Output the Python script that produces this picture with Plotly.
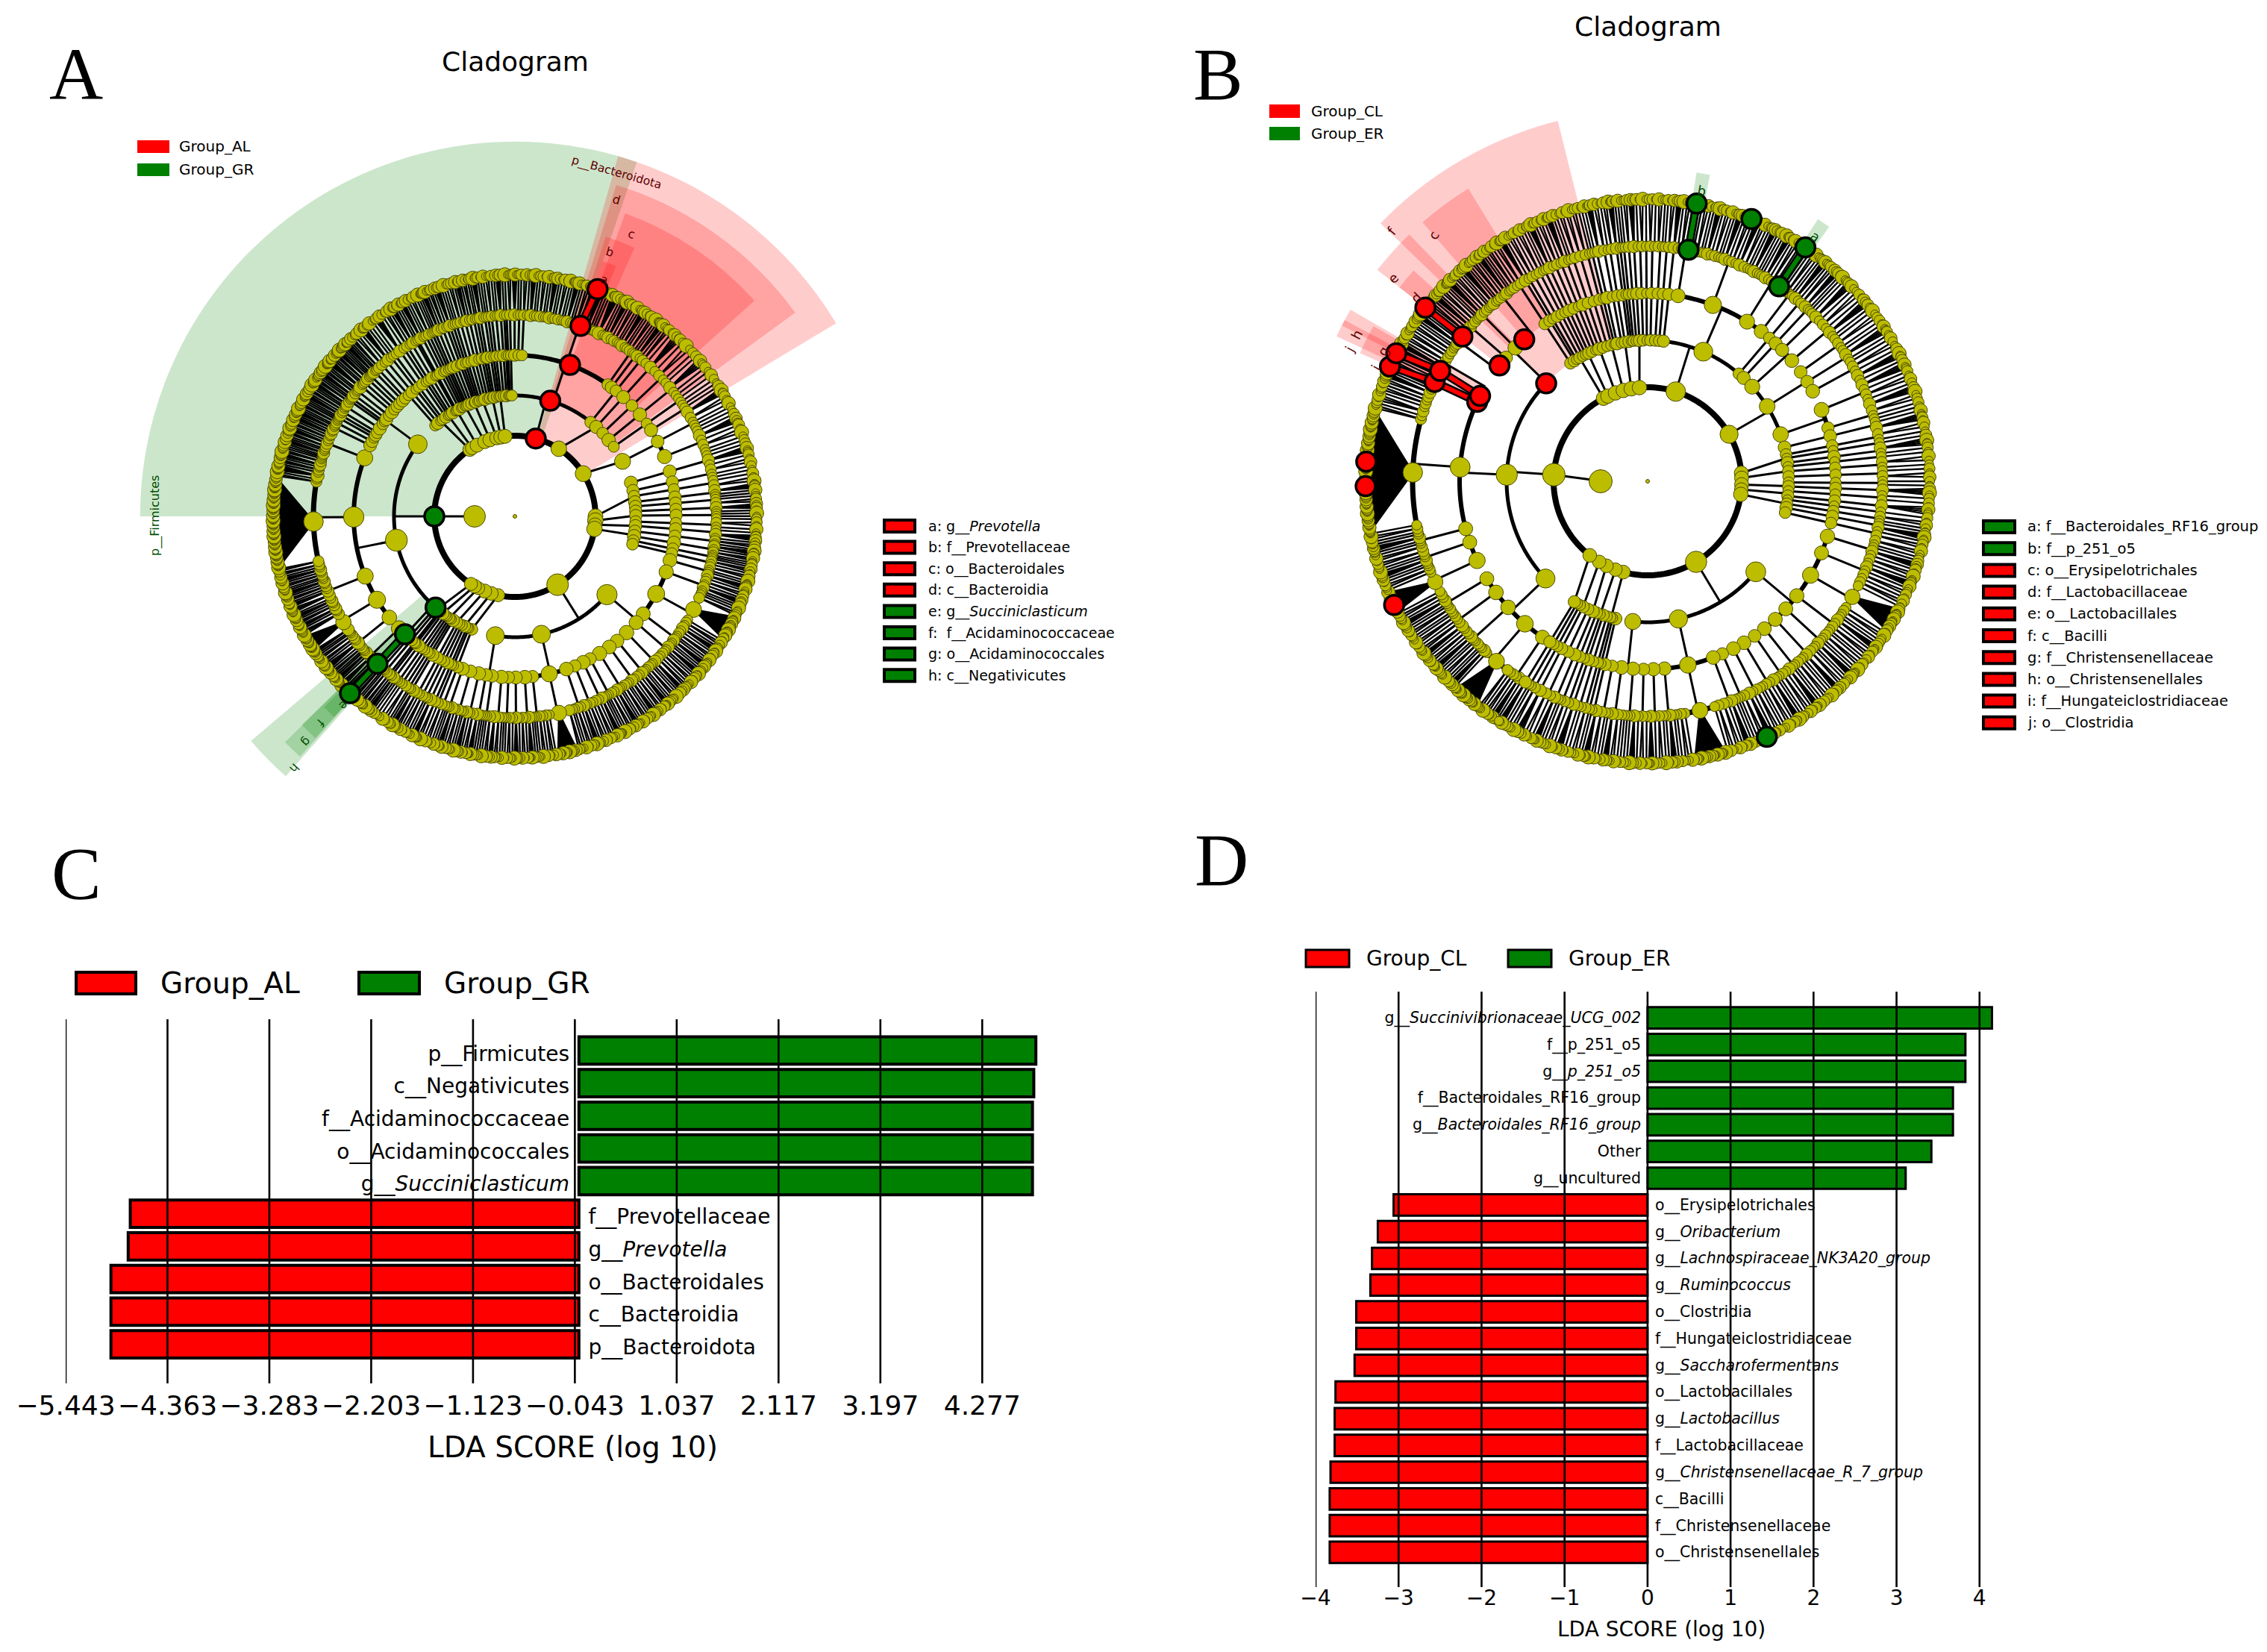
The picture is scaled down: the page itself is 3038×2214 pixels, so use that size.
import math
import plotly.graph_objects as go

W, H = 3038, 2214
RED, GREEN, YEL = "#ff0000", "#008000", "#bdbd00"

# ---------- LDA bars ----------
C_NAMES = ["p__Firmicutes", "c__Negativicutes", "f__Acidaminococcaceae", "o__Acidaminococcales",
           "g__<i>Succiniclasticum</i>", "f__Prevotellaceae", "g__<i>Prevotella</i>", "o__Bacteroidales",
           "c__Bacteroidia", "p__Bacteroidota"]
C_VALUES = [4.846, 4.824, 4.81, 4.81, 4.81, -4.758, -4.78, -4.963, -4.963, -4.963]
C_TICKS = [-5.443, -4.363, -3.283, -2.203, -1.123, -0.043, 1.037, 2.117, 3.197, 4.277]
D_NAMES = ["g__<i>Succinivibrionaceae_UCG_002</i>", "f__p_251_o5", "g__<i>p_251_o5</i>",
           "f__Bacteroidales_RF16_group", "g__<i>Bacteroidales_RF16_group</i>", "Other", "g__uncultured",
           "o__Erysipelotrichales", "g__<i>Oribacterium</i>", "g__<i>Lachnospiraceae_NK3A20_group</i>",
           "g__<i>Ruminococcus</i>", "o__Clostridia", "f__Hungateiclostridiaceae", "g__<i>Saccharofermentans</i>",
           "o__Lactobacillales", "g__<i>Lactobacillus</i>", "f__Lactobacillaceae",
           "g__<i>Christensenellaceae_R_7_group</i>", "c__Bacilli", "f__Christensenellaceae", "o__Christensenellales"]
D_VALUES = [4.15, 3.83, 3.83, 3.68, 3.68, 3.42, 3.11, -3.06, -3.25, -3.32, -3.34, -3.51, -3.51, -3.53,
            -3.76, -3.77, -3.77, -3.82, -3.83, -3.83, -3.83]
D_TICKS = [-4, -3, -2, -1, 0, 1, 2, 3, 4]

# ---------- Cladogram taxonomy ----------
# phylum = [class, ...]; class = [order, ...]; order = [family, ...]; family = genus count
# a negative count marks a family whose genera are packed twice as tightly (solid black fans)
A_START = [227.5, 132, 127.5, 123, 118.5, 114, 109.5, 105, 100.5, 96, 50, 34, 18, 8, -1, -6, -14, -110, -114, -118, -122, -126, -129]
A_END = A_START[1:] + [-132]
A_THETA = [180, 124, 122, 118, 112, 108, 103, 100, 97, 75, 57, 32, 0, -3, -6, -9, -58, -102, -107, -112, -117, -120, -123]
A_CLADES = [
    [[[1]],
     [[1, -2, 1, 3, 1, -2, 1, 1], [2, 1, -3, 1, 2], [2, 1, 1, -2, -8, 3, 1, -2, 2], [1, -2, 1, 3, -2, 1, 2, 1, -2, 1],
      [1, 2, 1, -2, 1, 2, 2, -44, 2, 1, -3, 1, 2, 1, -2, 2, 1, 1], [1, -2, 1, 1, 2, -2, 1, 2, 1, -2, 1]],
     [[-2, 1], [1, 2, 1], [1, 1], [-2], [1, 2], [1, 1, -2], [2, 1], [1], [-2, 2], [1, 1], [-3, 1], [1, 2], [-2], [1, 1, 1], [-2, 1], [1, 2]]],
    [[[2]], [[1, -2]], [[1]]], [[[1, 1]], [[-2]], [[1]]], [[[2]], [[1, -2]], [[1]], [[1]]], [[[-2, 1]], [[1]], [[2]], [[1]]],
    [[[1, 1]], [[-2]], [[1, 2]], [[1]]], [[[-2]], [[1]], [[1, 1]], [[2]]], [[[1, -2]], [[1]], [[2, 1]], [[1]]], [[[-2]], [[1, 1]], [[1]], [[2]]],
    [[[1, 1]], [[-2]], [[1]], [[1]], [[2]],
     [[-2], [1, 1], [2], [1, -2, 1, 1, 2, 1, 1, -2, 1, 1, 2, 1, 1, -2, 1, 1, 2, 1, 1, 1, -2, 1, 1, 1, -3, 1, 1, -2, 1, 2, 1, 1, -2, 1, 1], [2, 1], [1, -2]],
     [[1, 2]]],
    [[[1, -2, 1]], [[2, 1]], [[1, -2, 1, 1]], [[1, 1]]],
    [[[1, 1, -2], [2, 1, 1, 1], [1, -2, 1, 2, 1, 1]]],
    [[[1, -2, 1]], [[2, 1, 1]], [[1, 2]]], [[[-2, 1]], [[1, 1, 2]], [[-2]], [[1, 1, 1, 1]]], [[[2, 1]], [[1, -2]]], [[[1, 2, 1]], [[-2, 1, 2]], [[1, 1, 1]], [[2, 1]]],
    [[[2, 1, 1, -2], [1, 2, 1, -2, 1, 1], [1, 2, -10, 1, 2, 1, -2, 1], [2, 1, 1, -2, 1], [1, -2, 1, 1, 2], [1, 2, -2, 1, 1, 2], [1, 1, -2, 1], [2, 1, -2, 1], [1, 2, 1, 1, -2, 1], [2, 1, 1], [1, -2, 1, 2]],
     [[1, 2, 1], [-2, 1, 2, 1], [1, 2, -8, 1, 2, 1], [2, 1, 1], [1, -2, 1, 2]],
     [[1, -2, 1], [2, 1, 1], [1, 2, -2], [2, 1, 1, 1], [1, -2], [2, 1, -2], [1, 1, 2, 1], [-2, 1, 1]]],
    [[[1, 2]], [[1]], [[2]]], [[[-2]], [[1, 1]], [[2]]], [[[1, 2]], [[-2, 1]], [[1]]], [[[2]], [[1]], [[1, 1]]], [[[1, -2]], [[1]], [[2]]], [[[2, 1]], [[1, 2]]],
]
B_START = [238, 124, 118, 112, 106, 100, 94, 88, 46, 15, 9, 3, -3, -8, -14, -102, -106, -110, -114, -118]
B_END = B_START[1:] + [-122]
B_THETA = [176, 118, 115, 110, 105, 100, 95, 72.6, 30, 5, 2, -2, -5, -8, -59, -105, -110, -116, -121, -128]
B_CLADES = [
    [[[1, -2, 1, 2, 1], [2, -10, 1, -2, 1], [1, 2, 1, 1, -2, 1, 2], [1, -2, 2, 1, 2, 1, 1], [2, 1, 1, -2, 1]],
     [[2, 1, -8, 1, 2, 1], [1, -2, 1, 1, 2], [2, 1, 1, -2, 1], [1, 2, 1, -44, 2, 1, 3, 1, 2, 1, 2], [-2, 1, 1, 1, 2, 1, -2], [1, 1, -2, 1, 2, 2, 1]],
     [[2, 1, 1, -2, 1, 2, 1, 2], [1, -2, 1], [2, 1, 1, -2, 1, 2, 1], [1, -2, 1, 1, 2, 1, -2, 1, 1, 2]]],
    [[[1, 2]], [[-2]], [[1]], [[2, 1]]], [[[2]], [[1, 1]], [[-2]], [[1, 2]]], [[[1]], [[-2, 1]], [[1, 2]], [[2]]], [[[2, 1]], [[1]], [[1, -2]], [[2]]],
    [[[1, 2]], [[-2]], [[1]], [[1, 1]], [[2]]], [[[-2]], [[1, 2]], [[1]], [[2, 1]]],
    [[[2, 1]], [[1, 2]], [[-2]],
     [[1, 2, 1, -2, 1], [2, 1, 1, -2, 1, 2, 1, 1, -2, 1, 2, 1, -2, 2, 1, 1, -2, 1, 1], [1, -2, 1, 2, 1, -2, 1], [1, 2, 1, 1, -2]],
     [[1, 2]], [[-2, 1, 1]]],
    [[[1, -2, 1], [2, 1, -2, 1]], [[1, 2, 1, 1], [-2, 1], [1, 2, 1, -2]], [[1, -2, 1, 2, 1, -2], [2, 1, 1]]],
    [[[1, -2]], [[2, 1]], [[1]]], [[[-2, 1]], [[1]], [[2, 1]]], [[[1, 2]], [[1, 1]], [[-2]]], [[[1, 1]], [[-2]], [[1]]], [[[2, 1]], [[1, -2]], [[1, 2]]],
    [[[2, 1, 1, -2, 1, 2], [1, -2, 1, 2, 1], [2, 1, -8, 1, 2, 1], [1, -2, 1, 2, 1, 1], [2, 1, 1, -2, 1], [1, 2, -2, 1, 1], [2, 1, 1, -2], [1, 2, 1, 1], [-2, 1, 2, 1], [1, 2, 1, -2]],
     [[2, 1, 1], [1, -2, 1, 2], [2, 1, -10, 1, 2, 1], [1, -2, 1, 1], [2, 1, -2]],
     [[1, 2, 1], [-2, 1, 1, 1], [1, 2, -2, 1], [1, 2]]],
    [[[-2, 1]], [[1]], [[2]]], [[[1, 1]], [[-2]], [[1]]], [[[2, 1]], [[1, -2]]], [[[1, 2]], [[-2]]], [[[2]], [[1, 1]], [[-2]]],
]
LEAF_SIZES = [12, 15, 11, 17, 13, 11, 16, 12, 19, 11, 14, 15, 12, 18, 11]

# ---------- Highlighted clades: level on the ring, angle, group ----------
A_MARK_LEVEL = [2, 3, 4, 5, 6, 2, 3, 4, 5, 6]
A_MARK_THETA = [180, 229, 227, 227, 227, 75, 73, 70, 71, 70]
A_MARK_COLOR = [GREEN] * 5 + [RED] * 5
A_LINKS = [(4, 227, 5, 227, GREEN), (5, 227, 6, 227, GREEN), (5, 71, 6, 70, RED)]
B_MARK_LEVEL = [5, 6, 5, 6, 6, 6, 3, 4, 4, 5, 6, 4, 4, 5, 5, 6, 6, 6, 6, 6]
B_MARK_THETA = [80, 80, 56, 56, 68.4, -65, 136, 142, 131, 142, 142, 155, 153, 155, 152, 156, 153, 176, 181, 206]
B_MARK_COLOR = [GREEN] * 6 + [RED] * 14
B_LINKS = [(5, 80, 6, 80, GREEN), (5, 56, 6, 56, GREEN), (5, 142, 6, 142, RED),
           (4, 155, 5, 155, RED), (5, 155, 6, 156, RED), (4, 153, 5, 152, RED), (5, 152, 6, 153, RED)]

# ---------- Shaded sectors: inner ring, outer ring, angle from, angle to, group ----------
A_SECTORS = [(2, 9.3, 71, 180, GREEN), (2, 9.3, 31, 74, RED), (3, 8.6, 36, 73, RED), (4, 8.0, 42, 70, RED),
             (5, 7.3, 66, 72, RED), (6, 6.7, 68, 71, RED), (3, 8.6, 220.4, 228.6, GREEN), (4, 8.0, 224.5, 228.2, GREEN),
             (5, 7.4, 224.4, 228, GREEN), (6, 6.7, 225, 228, GREEN)]
B_SECTORS = [(3, 7.9, 104, 136, RED), (4, 7.3, 121.5, 131, RED), (4, 7.3, 134, 142, RED), (5, 6.7, 138, 142, RED),
             (4, 7.3, 152, 155, RED), (5, 6.7, 153, 156, RED), (4, 7.3, 150, 153, RED), (5, 6.7, 150.5, 153, RED),
             (5, 6.65, 54.5, 57, GREEN), (5, 6.65, 78.5, 81, GREEN)]


def rgba(col, a=0.2):
    return f"rgba(255,0,0,{a})" if col == RED else f"rgba(0,128,0,{a})"


def node_size(leaves):
    return 11 + 3.4 * math.log(1 + leaves)


def layout_tree(starts, ends, thetas, clades):
    """Even leaf spacing inside each phylum; a parent sits midway between its outer children."""
    nodes = {k: [] for k in range(1, 7)}
    thin, arcs = {k: ([], []) for k in range(1, 7)}, {k: ([], []) for k in range(1, 7)}
    leafno = [0]

    def seg(level, r0, t0, r1, t1):
        thin[level][0].extend([r0, r1, None])
        thin[level][1].extend([t0, t1, None])

    def arc(level, t0, t1):
        n = max(2, int(abs(t0 - t1)) + 2)
        arcs[level][0].extend([level] * n + [None])
        arcs[level][1].extend([t0 + (t1 - t0) * i / (n - 1) for i in range(n)] + [None])

    def join(level, ptheta, kids):
        """Parent on ring level-1 to children on ring level."""
        if len(kids) == 1:
            seg(level - 1, level - 1, ptheta, level, kids[0])
        else:
            hi, lo = max(kids), min(kids)
            arc(level, hi, lo)
            seg(level - 1, level - 1, ptheta, level, min(hi, max(lo, ptheta)))

    for s, e, l2, phylum in zip(starts, ends, thetas, clades):
        total = sum(abs(f) for c in phylum for o in c for f in o)
        step = (s - e) / total
        cur = s
        ctheta, cn = [], []
        for cl in phylum:
            otheta, on = [], []
            for order in cl:
                ftheta, fn = [], []
                for fam in order:
                    count = abs(fam) * (2 if fam < 0 else 1)
                    w = step * (0.5 if fam < 0 else 1)
                    lv = [cur - w * (i + 0.5) for i in range(count)]
                    cur -= w * count
                    ft = (lv[0] + lv[-1]) / 2
                    for t in lv:
                        nodes[6].append((t, LEAF_SIZES[leafno[0] % len(LEAF_SIZES)]))
                        leafno[0] += 1
                        seg(5, 5, ft, 6, t)
                    ftheta.append(ft)
                    fn.append(count)
                ot = (ftheta[0] + ftheta[-1]) / 2
                join(5, ot, ftheta)
                for t, n in zip(ftheta, fn):
                    nodes[5].append((t, node_size(n)))
                otheta.append(ot)
                on.append(sum(fn))
            ct = (otheta[0] + otheta[-1]) / 2
            join(4, ct, otheta)
            for t, n in zip(otheta, on):
                nodes[4].append((t, node_size(n)))
            ctheta.append(ct)
            cn.append(sum(on))
        join(3, l2, ctheta)
        for t, n in zip(ctheta, cn):
            nodes[3].append((t, node_size(n)))
        nodes[2].append((l2, node_size(sum(cn))))
    return nodes, thin, arcs


def add_cladogram(fig, sub, starts, ends, thetas, clades, sectors, mlev, mth, mcol, links, root_s, lw):
    nodes, thin, arcs = layout_tree(starts, ends, thetas, clades)
    fig.add_trace(go.Barpolar(subplot=sub, base=[a[0] for a in sectors], r=[a[1] - a[0] for a in sectors],
                              theta=[(a[2] + a[3]) / 2 for a in sectors], width=[a[3] - a[2] for a in sectors],
                              marker=dict(color=[rgba(a[4]) for a in sectors], line=dict(width=0)),
                              hoverinfo="skip", showlegend=False))
    for lev in (5, 4, 3, 2, 1):
        fig.add_trace(go.Scatterpolar(subplot=sub, r=thin[lev][0], theta=thin[lev][1], mode="lines",
                                      line=dict(color="black", width=2.4 if lev == 5 else 3), hoverinfo="skip",
                                      showlegend=False, connectgaps=False))
    for lev, width in zip((5, 4, 3), lw[1:]):
        fig.add_trace(go.Scatterpolar(subplot=sub, r=arcs[lev][0], theta=arcs[lev][1], mode="lines",
                                      line=dict(color="black", width=width), hoverinfo="skip", showlegend=False))
    ring = list(range(0, 361, 2))
    fig.add_trace(go.Scatterpolar(subplot=sub, r=[2] * len(ring), theta=ring, mode="lines",
                                  line=dict(color="black", width=lw[0]), hoverinfo="skip", showlegend=False))
    fig.add_trace(go.Scatterpolar(subplot=sub, r=[0.95, 2], theta=[180, thetas[0]], mode="lines",
                                  line=dict(color="black", width=3), hoverinfo="skip", showlegend=False))
    for r0, t0, r1, t1, col in links:
        for colr, wd in (("black", 11), (col, 6)):
            fig.add_trace(go.Scatterpolar(subplot=sub, r=[r0, r1], theta=[t0, t1], mode="lines",
                                          line=dict(color=colr, width=wd), hoverinfo="skip", showlegend=False))
    # a highlighted clade replaces the plain node nearest to it on its ring
    for lev, th in zip(mlev, mth):
        items = nodes[lev]
        i = min(range(len(items)), key=lambda j: abs(items[j][0] - th))
        items.pop(i)
    rr, tt, ss = [], [], []
    for lev in (6, 5, 4, 3, 2):
        for t, s in nodes[lev]:
            rr.append(lev)
            tt.append(t)
            ss.append(s)
    fig.add_trace(go.Scatterpolar(subplot=sub, r=rr, theta=tt, mode="markers",
                                  marker=dict(color=YEL, size=ss, opacity=1, line=dict(color="#4a4a00", width=1)),
                                  hoverinfo="skip", showlegend=False))
    fig.add_trace(go.Scatterpolar(subplot=sub, r=[1, 0], theta=[180, 0], mode="markers",
                                  marker=dict(color=YEL, size=[root_s, 5], opacity=1, line=dict(color="#4a4a00", width=1)),
                                  hoverinfo="skip", showlegend=False))
    fig.add_trace(go.Scatterpolar(subplot=sub, r=mlev, theta=mth, mode="markers",
                                  marker=dict(color=mcol, size=26, opacity=1, line=dict(color="black", width=3.5)),
                                  hoverinfo="skip", showlegend=False))


fig = go.Figure()


def polar_layout(cx, cy, R, rmax):
    return dict(domain=dict(x=[(cx - R) / W, (cx + R) / W], y=[1 - (cy + R) / H, 1 - (cy - R) / H]),
                bgcolor="rgba(0,0,0,0)",
                angularaxis=dict(visible=False, direction="counterclockwise", rotation=0),
                radialaxis=dict(visible=False, range=[0, rmax]))


add_cladogram(fig, "polar", A_START, A_END, A_THETA, A_CLADES, A_SECTORS, A_MARK_LEVEL, A_MARK_THETA, A_MARK_COLOR,
              A_LINKS, 29, (8, 7, 6, 5))
add_cladogram(fig, "polar2", B_START, B_END, B_THETA, B_CLADES, B_SECTORS, B_MARK_LEVEL, B_MARK_THETA, B_MARK_COLOR,
              B_LINKS, 31, (8, 7, 6, 5))


def add_bars(fig, names, values, xa, ya, width, lw, left_x, right_x, font, dy):
    idx = list(range(len(values)))
    for col, sel in ((RED, [i for i in idx if values[i] < 0]), (GREEN, [i for i in idx if values[i] > 0])):
        fig.add_trace(go.Bar(x=[values[i] for i in sel], y=sel, orientation="h", width=width, xaxis=xa, yaxis=ya,
                             marker=dict(color=col, line=dict(color="black", width=lw)),
                             hoverinfo="skip", showlegend=False))
    fig.add_trace(go.Scatter(x=[left_x if v > 0 else right_x for v in values], y=[i + dy for i in idx], xaxis=xa, yaxis=ya,
                             mode="text", text=names, cliponaxis=False,
                             textposition=["middle left" if v > 0 else "middle right" for v in values],
                             textfont=dict(family="DejaVu Sans", size=font, color="black"),
                             hoverinfo="skip", showlegend=False))


add_bars(fig, C_NAMES, C_VALUES, "x", "y", 0.84, 4, -0.1, 0.1, 28, 0.15)
add_bars(fig, D_NAMES, D_VALUES, "x2", "y2", 0.8, 3, -0.08, 0.09, 20.5, 0.05)


def tick_text(vals, fmt):
    return [fmt(v).replace("-", "\u2212") for v in vals]


def px(x, y):
    return x / W, 1 - y / H


annots = []


def label(x, y, text, size, color="black", angle=0, anchor="center", family="DejaVu Sans"):
    fx, fy = px(x, y)
    annots.append(dict(x=fx, y=fy, xref="paper", yref="paper", text=text, showarrow=False, textangle=angle,
                       xanchor=anchor, yanchor="middle", font=dict(size=size, color=color, family=family)))


shapes = []


def swatch(x0, y0, x1, y1, col, lw):
    fx0, fy0 = px(x0, y0)
    fx1, fy1 = px(x1, y1)
    shapes.append(dict(type="rect", xref="paper", yref="paper", x0=fx0, x1=fx1, y0=fy0, y1=fy1,
                       fillcolor=col, line=dict(color="black", width=lw) if lw else dict(width=0)))


for txt, x, y in (("A", 102, 100), ("B", 1633, 100), ("C", 102, 1170), ("D", 1637, 1152)):
    label(x, y, txt, 100, family="Liberation Serif")
label(690, 83, "Cladogram", 36)
label(2208, 36, "Cladogram", 36)

# cladogram group keys
for y0, col, txt in ((188, RED, "Group_AL"), (219, GREEN, "Group_GR")):
    swatch(184, y0, 227, y0 + 17, col, 0)
    label(238, y0 + 8, txt, 20, anchor="left")
for y0, col, txt in ((140, RED, "Group_CL"), (170, GREEN, "Group_ER")):
    swatch(1701, y0, 1742, y0 + 18, col, 0)
    label(1755, y0 + 9, txt, 20, anchor="left")

# clade keys
A_KEY = ["a: g__<i>Prevotella</i>", "b: f__Prevotellaceae", "c: o__Bacteroidales", "d: c__Bacteroidia",
         "e: g__<i>Succiniclasticum</i>", "f:  f__Acidaminococcaceae", "g: o__Acidaminococcales", "h: c__Negativicutes"]
A_KEY_COL = [RED] * 4 + [GREEN] * 4
for i, (t, c) in enumerate(zip(A_KEY, A_KEY_COL)):
    y = 705 + i * 28.6
    swatch(1185, y - 8, 1226, y + 8, c, 4)
    label(1242, y, t, 19, anchor="left")
B_KEY = ["a: f__Bacteroidales_RF16_group", "b: f__p_251_o5", "c: o__Erysipelotrichales", "d: f__Lactobacillaceae",
         "e: o__Lactobacillales", "f: c__Bacilli", "g: f__Christensenellaceae", "h: o__Christensenellales",
         "i: f__Hungateiclostridiaceae", "j: o__Clostridia"]
B_KEY_COL = [GREEN] * 2 + [RED] * 8
for i, (t, c) in enumerate(zip(B_KEY, B_KEY_COL)):
    y = 706 + i * 29.2
    swatch(2658, y - 8, 2700, y + 8, c, 4)
    label(2715, y, t, 19.5, anchor="left")

# sector labels
DR, DG = "#5c0000", "#004d00"
label(826, 232, "p__Bacteroidota", 15.5, DR, 16)
label(208, 691, "p__Firmicutes", 16, DG, -90)
for txt, x, y in (("d", 826, 268), ("c", 846, 313), ("b", 817, 338), ("a", 810, 374)):
    label(x, y, txt, 16, DR, 16)
for txt, x, y in (("h", 394, 1029), ("g", 410, 994), ("f", 430, 969), ("e", 460, 945)):
    label(x, y, txt, 16, DG, 132)
for txt, x, y, a, c in (("b", 2280, 255, 10, DG), ("a", 2432, 317, 34, DG), ("c", 1921, 315, -60, DR),
                        ("f", 1865, 309, -50, DR), ("e", 1867, 372, -45, DR), ("d", 1897, 399, -45, DR),
                        ("g", 1853, 471, -62, DR), ("h", 1818, 448, -62, DR), ("j", 1808, 468, -62, DR),
                        ("i", 1843, 493, -62, DR)):
    label(x, y, txt, 18, c, a)

# bar chart keys and axis titles
swatch(102, 1303, 182, 1332, RED, 4)
swatch(481, 1303, 562, 1332, GREEN, 4)
label(213, 1317, "Group_AL", 39, anchor="left")
label(593, 1317, "Group_GR", 39, anchor="left")
label(767, 1939, "LDA SCORE (log 10)", 39)
swatch(1750, 1273, 1808, 1296, RED, 3)
swatch(2021, 1273, 2079, 1296, GREEN, 3)
label(1829, 1284, "Group_CL", 28, anchor="left")
label(2100, 1284, "Group_ER", 28, anchor="left")
label(2226, 2183, "LDA SCORE (log 10)", 28)

for t in C_TICKS:
    shapes.append(dict(type="line", xref="x", yref="y domain", x0=t, x1=t, y0=0, y1=1, layer="above",
                       line=dict(color="black", width=2.6)))
for t in D_TICKS:
    shapes.append(dict(type="line", xref="x2", yref="y2 domain", x0=t, x1=t, y0=0, y1=1, layer="above",
                       line=dict(color="black", width=2.6)))

hidden = dict(showgrid=False, zeroline=False, showline=False, showticklabels=False, ticks="")
fig.update_layout(
    width=W, height=H, margin=dict(l=0, r=0, t=0, b=0, pad=0, autoexpand=False), paper_bgcolor="white", plot_bgcolor="white",
    barmode="overlay", showlegend=False, font=dict(family="DejaVu Sans"),
    polar=polar_layout(690, 692, 540, 10),
    polar2=polar_layout(2208, 645, 567, 9),
    xaxis=dict(domain=[88 / W, 1395 / W], range=[-5.443, 4.9], tickvals=C_TICKS, tickangle=0,
               ticktext=tick_text(C_TICKS, lambda v: f"{v:.3f}"), showgrid=False, zeroline=False, showline=False,
               ticks="outside", ticklen=8, tickcolor="rgba(0,0,0,0)", ticklabelstandoff=-10,
               tickfont=dict(size=36, color="black"), anchor="y"),
    yaxis=dict(domain=[1 - 1854 / H, 1 - 1366 / H], range=[10.2, -0.96], anchor="x", **hidden),
    xaxis2=dict(domain=[1763 / W, 2675 / W], range=[-4, 4.2], tickvals=D_TICKS, tickangle=0,
                ticktext=tick_text(D_TICKS, lambda v: f"{v:d}"), showgrid=False, zeroline=False, showline=False,
                ticks="outside", ticklen=6, tickcolor="rgba(0,0,0,0)", ticklabelstandoff=-17,
                tickfont=dict(size=28, color="black"), anchor="y2"),
    yaxis2=dict(domain=[1 - 2127 / H, 1 - 1329 / H], range=[21.3, -0.98], anchor="x2", **hidden),
    annotations=annots, shapes=shapes,
)
fig.write_html("out.html", config={"displayModeBar": False}, post_script="document.body.style.margin='0';")
